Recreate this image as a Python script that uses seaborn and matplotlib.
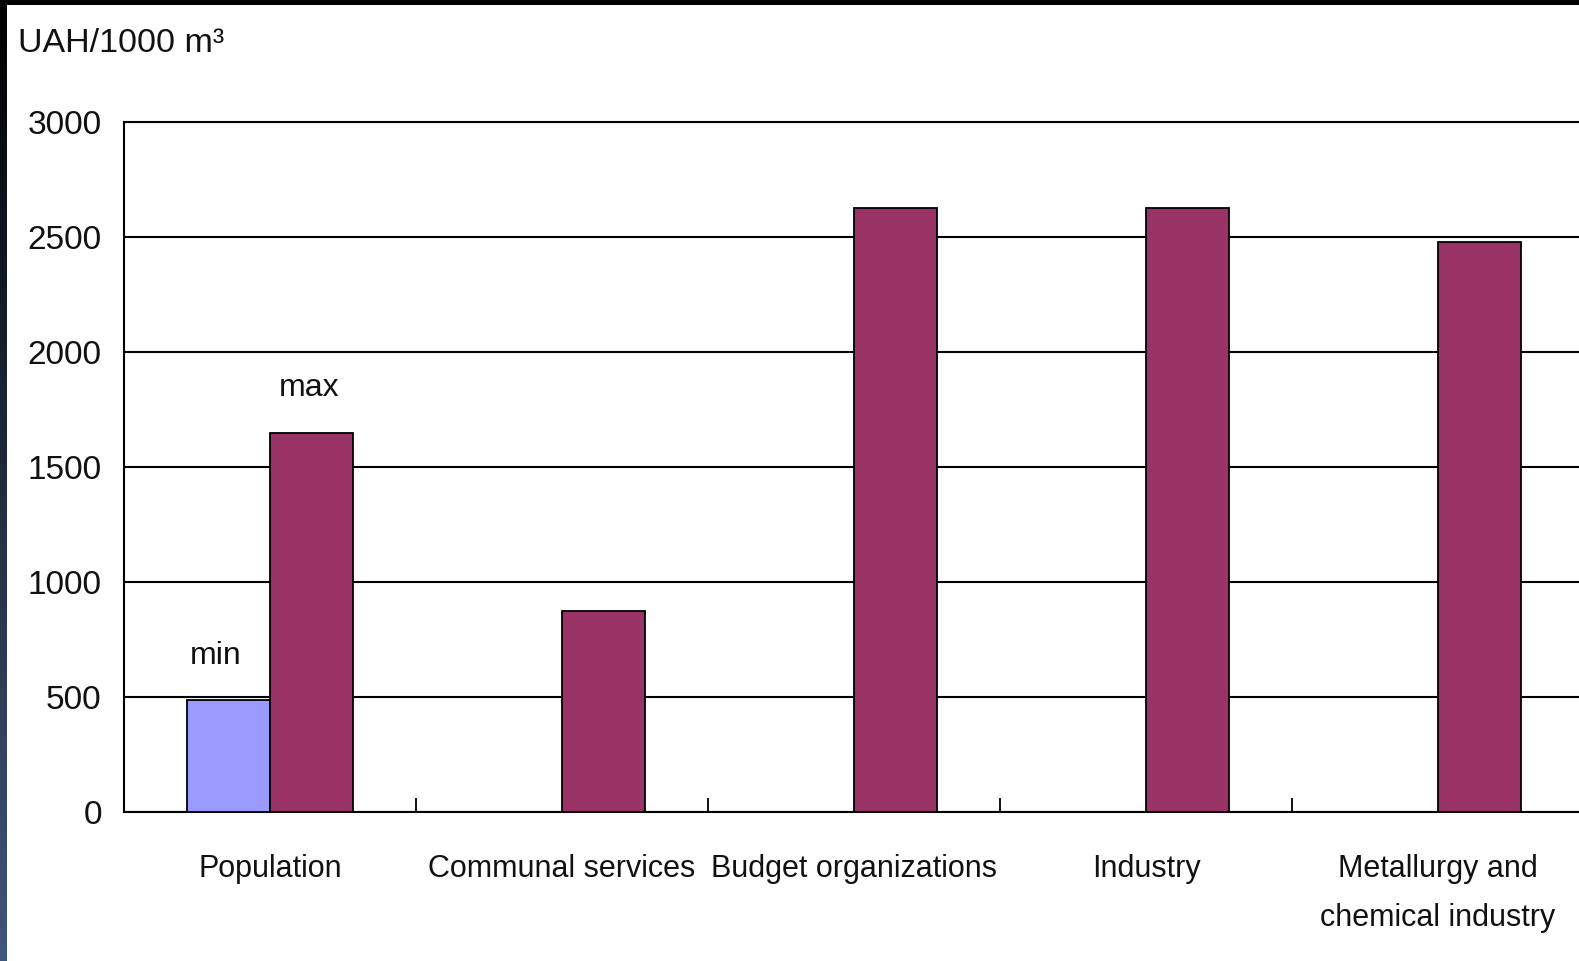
import numpy as np
import pandas as pd
import matplotlib
matplotlib.use("Agg")
import matplotlib.pyplot as plt
import seaborn as sns
from matplotlib.patches import Rectangle

# Gas tariffs by consumer group, UAH per 1000 m3
categories = ["Population", "Communal services", "Budget organizations",
              "Industry", "Metallurgy and\nchemical industry"]
tariff_min = [487, np.nan, np.nan, np.nan, np.nan]
tariff_max = [1650, 872, 2628, 2628, 2479]
series_names = ["min", "max"]
y_ticks = [0, 500, 1000, 1500, 2000, 2500, 3000]

df = pd.DataFrame({
    "category": categories * 2,
    "series": [series_names[0]] * len(categories) + [series_names[1]] * len(categories),
    "value": tariff_min + tariff_max,
})

sns.set_theme(style="white")
plt.rcParams["font.family"] = ["Liberation Sans Narrow", "Liberation Sans", "DejaVu Sans"]

W, H = 1579, 961
fig = plt.figure(figsize=(W / 100, H / 100), dpi=100)
fig.patch.set_facecolor("white")

left_px, top_px, bottom_px, right_px = 124, 122, 812, 1584
ax = fig.add_axes([left_px / W, 1 - bottom_px / H,
                   (right_px - left_px) / W, (bottom_px - top_px) / H])

sns.barplot(data=df, x="category", y="value", hue="series",
            hue_order=series_names, order=categories,
            palette={"min": "#9999FF", "max": "#993366"},
            width=0.57, gap=0, dodge=True, edgecolor="black", linewidth=1.3,
            saturation=1, ax=ax, zorder=3, legend=False)

ax.set_ylim(0, 3000)
ax.set_xlim(-0.5, len(categories) - 0.5)
ax.set_yticks(y_ticks)
ax.set_yticklabels([str(t) for t in y_ticks], fontsize=24, color="#111111")
ax.tick_params(axis="y", length=0, pad=16)
ax.tick_params(axis="x", which="major", length=0, pad=30, labelsize=22, labelcolor="#111111")
for lbl in ax.get_xticklabels():
    lbl.set_linespacing(1.85)
# Small inward tick marks between the categories
ax.set_xticks(np.arange(len(categories)) + 0.5, minor=True)
ax.tick_params(axis="x", which="minor", bottom=True, direction="in", length=10,
               width=1.3, color="black")
ax.set_xlabel("")
ax.set_ylabel("")

ax.yaxis.grid(True, color="black", linewidth=1.5, zorder=0)
ax.set_axisbelow(True)
for side in ["left", "bottom", "top"]:
    ax.spines[side].set_visible(True)
    ax.spines[side].set_color("black")
    ax.spines[side].set_linewidth(1.5)
ax.spines["right"].set_visible(False)

# Series labels above the Population bars
bars_min = ax.containers[0]
bars_max = ax.containers[1]
for bar, text, dx in [(bars_min[0], "min", -9), (bars_max[0], "max", -2)]:
    x = bar.get_x() + bar.get_width() / 2
    ax.annotate(text, xy=(x, bar.get_height()), xytext=(dx, 21),
                textcoords="offset points", ha="center", va="bottom",
                fontsize=23, color="#111111")

fig.text(18 / W, 1 - 43 / H, "UAH/1000 m³", fontsize=24.5, color="#111111",
         ha="left", va="center")

# Dark slide frame along the top and left edges
fig.patches.append(Rectangle((0, 1 - 5 / H), 1, 5 / H, transform=fig.transFigure,
                             facecolor="black", edgecolor="none", zorder=10))
n = 60
for i in range(n):
    t = i / (n - 1)
    c = np.array([0, 0, 0]) * (1 - t) + np.array([0x40, 0x55, 0x7a]) / 255 * t
    y0 = 1 - (i + 1) / n
    fig.patches.append(Rectangle((0, y0), 7 / W, 1 / n + 0.001, transform=fig.transFigure,
                                 facecolor=c, edgecolor="none", zorder=10))

fig.savefig("out.png", dpi=100, facecolor="white")
